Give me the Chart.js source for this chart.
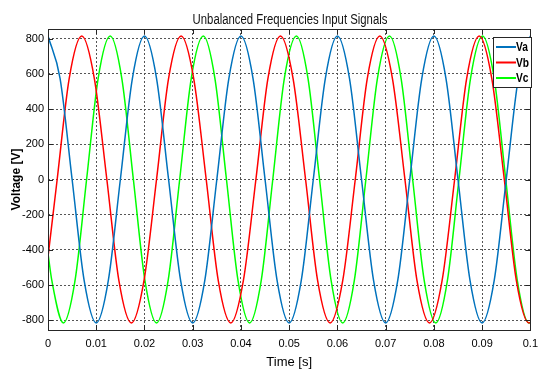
<!DOCTYPE html>
<html>
<head>
<meta charset="utf-8">
<script src="https://cdn.jsdelivr.net/npm/chart.js@4.4.0/dist/chart.umd.min.js"></script>
<style>
  html, body { margin: 0; padding: 0; background: #fff; }
  #wrap { width: 545px; height: 369px; }
</style>
</head>
<body>
<div id="wrap"><canvas id="signals" width="545" height="369"></canvas></div>
<script>
// values (time in s, voltage in V)
const vaTime = [0, 0.0025, 0.005, 0.0075, 0.01, 0.0125, 0.015, 0.0175,
  0.02, 0.0225, 0.025, 0.0275, 0.03, 0.0325, 0.035, 0.0375,
  0.04, 0.0425, 0.045, 0.0475, 0.05, 0.0525, 0.055, 0.0575,
  0.06, 0.0625, 0.065, 0.0675, 0.07, 0.0725, 0.075, 0.0775,
  0.08, 0.0825, 0.085, 0.0875, 0.09, 0.0925, 0.095, 0.0975, 0.1];
const vaVolt = [815, 575, 0, -575, -815, -575, 0, 575,
  815, 575, 0, -575, -815, -575, 0, 575,
  815, 575, 0, -575, -815, -575, 0, 575,
  815, 575, 0, -575, -815, -575, 0, 575,
  815, 575, 0, -575, -815, -575, 0, 575, 815];

const vbTime = [0, 0.0019, 0.0044, 0.0070, 0.0096, 0.0122, 0.0147, 0.0173, 0.0199,
  0.0225, 0.0250, 0.0276, 0.0302, 0.0328, 0.0353, 0.0379, 0.0405,
  0.0431, 0.0456, 0.0482, 0.0508, 0.0534, 0.0559, 0.0585, 0.0611,
  0.0637, 0.0662, 0.0688, 0.0714, 0.0740, 0.0765, 0.0791, 0.0817,
  0.0843, 0.0868, 0.0894, 0.0920, 0.0946, 0.0971, 0.0997, 0.1];
const vbVolt = [-440, 0, 575, 815, 575, 0, -575, -815, -575,
  0, 575, 815, 575, 0, -575, -815, -575,
  0, 575, 815, 575, 0, -575, -815, -575,
  0, 575, 815, 575, 0, -575, -815, -575,
  0, 575, 815, 575, 0, -575, -815, -812];

const vcTime = [0, 0.0008, 0.0032, 0.0056, 0.0080, 0.0104, 0.0129, 0.0153, 0.0177, 0.0201,
  0.0225, 0.0249, 0.0273, 0.0297, 0.0322, 0.0346, 0.0370, 0.0394,
  0.0418, 0.0442, 0.0466, 0.0490, 0.0515, 0.0539, 0.0563, 0.0587,
  0.0611, 0.0635, 0.0659, 0.0683, 0.0708, 0.0732, 0.0756, 0.0780,
  0.0804, 0.0828, 0.0852, 0.0876, 0.0901, 0.0925, 0.0949, 0.0973,
  0.0997, 0.1];
const vcVolt = [-420, -575, -815, -575, 0, 575, 815, 575, 0, -575,
  -815, -575, 0, 575, 815, 575, 0, -575,
  -815, -575, 0, 575, 815, 575, 0, -575,
  -815, -575, 0, 575, 815, 575, 0, -575,
  -815, -575, 0, 575, 815, 575, 0, -575,
  -815, -813];

const seriesNames = ["Va", "Vb", "Vc"];
const seriesColors = ["#0072BD", "#FF0000", "#00FF00"];

const FONT = "'Liberation Sans', Arial, sans-serif";

function series(i, times, volts) {
  return {
    label: seriesNames[i],
    data: times.map((t, k) => ({ x: t, y: volts[k] })),
    borderColor: seriesColors[i],
    borderWidth: 1.5,
    pointRadius: 0,
    fill: false,
    cubicInterpolationMode: "monotone",
  };
}

// squeezed text, the reference uses a narrow face
function narrowText(ctx, text, x, y, squeeze) {
  ctx.save();
  ctx.translate(x, y);
  ctx.scale(squeeze, 1);
  ctx.fillText(text, 0, 0);
  ctx.restore();
}

// box around the axes, inward ticks, title and legend (MATLAB look)
const matlabFrame = {
  id: "matlabFrame",
  afterDatasetsDraw(chart) {
    const { ctx, chartArea: a, scales } = chart;
    ctx.save();
    ctx.strokeStyle = "#262626";
    ctx.lineWidth = 1;
    ctx.strokeRect(Math.round(a.left) + 0.5, Math.round(a.top) + 0.5,
      Math.round(a.right - a.left), Math.round(a.bottom - a.top));
    ctx.beginPath();
    scales.x.ticks.forEach((t) => {
      const px = Math.round(scales.x.getPixelForValue(t.value)) + 0.5;
      ctx.moveTo(px, a.bottom); ctx.lineTo(px, a.bottom - 5);
      ctx.moveTo(px, a.top); ctx.lineTo(px, a.top + 5);
    });
    scales.y.ticks.forEach((t) => {
      const py = Math.round(scales.y.getPixelForValue(t.value)) + 0.5;
      ctx.moveTo(a.left, py); ctx.lineTo(a.left + 5, py);
      ctx.moveTo(a.right, py); ctx.lineTo(a.right - 5, py);
    });
    ctx.stroke();

    // title
    ctx.fillStyle = "#111";
    ctx.font = "14px " + FONT;
    ctx.textAlign = "center";
    ctx.textBaseline = "middle";
    narrowText(ctx, "Unbalanced Frequencies Input Signals", 290, 20, 0.81);

    // legend
    const bx = 493, by = 37, bw = 38, bh = 50;
    ctx.fillStyle = "#fff";
    ctx.fillRect(bx, by, bw, bh);
    ctx.strokeStyle = "#262626";
    ctx.lineWidth = 1;
    ctx.strokeRect(bx + 0.5, by + 0.5, bw, bh);
    ctx.font = "bold 12px " + FONT;
    ctx.textAlign = "left";
    chart.data.datasets.forEach((ds, i) => {
      const y = by + 10 + i * 15.5;
      ctx.strokeStyle = ds.borderColor;
      ctx.lineWidth = 2;
      ctx.beginPath();
      ctx.moveTo(bx + 3, y); ctx.lineTo(bx + 23, y);
      ctx.stroke();
      ctx.fillStyle = "#000";
      narrowText(ctx, ds.label, bx + 23, y + 1, 0.85);
    });
    ctx.restore();
  },
};

new Chart(document.getElementById("signals"), {
  type: "line",
  data: {
    datasets: [
      series(0, vaTime, vaVolt),
      series(1, vbTime, vbVolt),
      series(2, vcTime, vcVolt),
    ],
  },
  options: {
    responsive: false,
    animation: false,
    layout: { padding: { left: 0, right: 7, top: 29, bottom: 0 } },
    plugins: { legend: { display: false }, title: { display: false }, tooltip: { enabled: false } },
    scales: {
      x: {
        type: "linear",
        min: 0,
        max: 0.1,
        afterFit(scale) { scale.height = 39; },
        grid: { color: "#555", drawTicks: false },
        border: { display: false, dash: [2, 2] },
        ticks: {
          stepSize: 0.01,
          autoSkip: false,
          maxRotation: 0,
          padding: 7,
          color: "#000",
          font: { family: FONT, size: 11 },
          callback: (v) => String(Math.round(v * 100) / 100),
        },
        title: {
          display: true,
          text: "Time [s]",
          color: "#000",
          font: { family: FONT, size: 13, lineHeight: 1 },
          padding: { top: 0, bottom: 0 },
        },
      },
      y: {
        min: -855,
        max: 855,
        afterFit(scale) { scale.width = 48; },
        grid: { color: "#555", drawTicks: false },
        border: { display: false, dash: [2, 2] },
        ticks: {
          stepSize: 200,
          includeBounds: false,
          padding: 4,
          color: "#000",
          font: { family: FONT, size: 11 },
        },
        title: {
          display: true,
          text: "Voltage [V]",
          color: "#000",
          font: { family: FONT, size: 12, weight: "bold", lineHeight: 1 },
          padding: { top: 11, bottom: 0 },
        },
      },
    },
  },
  plugins: [matlabFrame],
});
</script>
</body>
</html>
